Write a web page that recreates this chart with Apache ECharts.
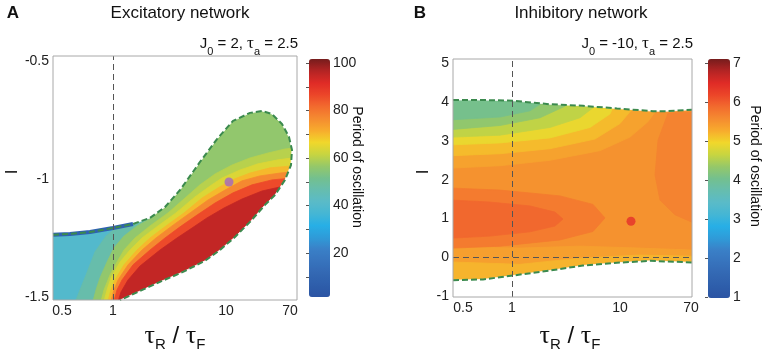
<!DOCTYPE html>
<html>
<head>
<meta charset="utf-8">
<script src="https://cdn.jsdelivr.net/npm/echarts@6/dist/echarts.min.js"></script>
<style>
  html, body { margin: 0; padding: 0; background: #fff; }
  #chart { width: 773px; height: 353px; }
</style>
</head>
<body>
<div id="chart"></div>
<script>
  // x is the column position on the original (non-uniform) tauR/tauF grid,
  // the tick labels give the ratio itself
  const xTickLabels = ['0.5', '1', '10', '70']
  const xTickPosA = [9, 60, 173, 237]
  const xTickPosB = [10, 59, 167, 238]
  const yTicksA = [-1.5, -1, -0.5]
  const yTicksB = [-1, 0, 1, 2, 3, 4, 5]
  const cbTicksA = [20, 40, 60, 80, 100]
  const cbMinorA = [10, 20, 30, 40, 50, 60, 70, 80, 90, 100]
  const cbTicksB = [1, 2, 3, 4, 5, 6, 7]

  const periodColors = ['#2b54a3', '#2e5eab', '#3368b3', '#3773bd', '#3a80c7', '#2f9bd8', '#27afe6',
    '#45b6d4', '#5abbc8', '#66bdae', '#74c08e', '#96c868', '#c8d540', '#f1d72b', '#f7ab2d',
    '#f58b30', '#f26b2e', '#ec4529', '#df2b26', '#b32424', '#761c1c']

  // ---- panel A (excitatory) ----
  const nsUpperA = [[0, -1.237], [17, -1.233], [37, -1.225], [60, -1.208], [80, -1.191], [97, -1.165],
    [112, -1.119], [127, -1.047], [147, -0.928], [164, -0.831], [180, -0.754], [197, -0.72],
    [209, -0.712], [219, -0.725], [229, -0.767], [236, -0.822], [239, -0.877]]
  const nsLowerA = [[239, -0.877], [238, -0.941], [232, -1.004], [222, -1.068], [212, -1.11], [197, -1.182],
    [182, -1.246], [167, -1.301], [152, -1.347], [130, -1.394], [107, -1.436], [87, -1.475], [72, -1.504], [67, -1.513]]
  // iso-period lines, the period grows to the lower right of each one
  const isoA45 = [[21, -1.534], [27, -1.47], [33, -1.407], [42, -1.309], [53, -1.242], [65, -1.199], [73, -1.131]]
  const isoA52 = [[39, -1.534], [43, -1.47], [47, -1.419], [54, -1.352], [61, -1.292], [71, -1.242], [84, -1.199],
    [97, -1.169], [107, -1.11]]
  const isoA57 = [[47, -1.534], [51, -1.47], [57, -1.407], [64, -1.352], [71, -1.301], [82, -1.25], [97, -1.199],
    [115, -1.144], [132, -1.081], [147, -1.025], [162, -0.979], [179, -0.941], [197, -0.911], [215, -0.89],
    [232, -0.873], [250, -0.864]]
  const isoA62 = [[50, -1.534], [54, -1.47], [58, -1.419], [67, -1.352], [77, -1.301], [89, -1.25], [105, -1.199],
    [123, -1.144], [142, -1.076], [157, -1.03], [169, -0.996], [187, -0.962], [205, -0.936], [225, -0.919], [250, -0.905]]
  const isoA68 = [[54, -1.534], [58, -1.47], [62, -1.428], [71, -1.364], [84, -1.301], [97, -1.25], [113, -1.199],
    [131, -1.144], [149, -1.081], [165, -1.038], [179, -1.004], [197, -0.975], [217, -0.953], [250, -0.941]]
  const isoA75 = [[57, -1.534], [61, -1.47], [65, -1.428], [75, -1.364], [89, -1.301], [103, -1.25], [119, -1.199],
    [137, -1.144], [155, -1.089], [172, -1.047], [189, -1.008], [207, -0.987], [227, -0.975], [250, -0.966]]
  const isoA84 = [[60, -1.534], [64, -1.47], [69, -1.428], [80, -1.364], [97, -1.301], [112, -1.25], [127, -1.203],
    [144, -1.153], [162, -1.102], [180, -1.059], [199, -1.025], [219, -1.004], [250, -0.992]]
  const isoA94 = [[64, -1.534], [68, -1.479], [75, -1.428], [87, -1.369], [107, -1.301], [124, -1.25], [139, -1.208],
    [154, -1.165], [171, -1.123], [189, -1.085], [209, -1.051], [227, -1.034], [250, -1.025]]
  const levelsA = [40, 47, 56, 60, 64, 70, 77, 86, 95]
  const dotA = [[176, -1.013]]

  // ---- panel B (inhibitory) ----
  const nsUpperB = [[0, 4.06], [30, 4.06], [60, 4.04], [97, 3.95], [130, 3.91], [164, 3.84], [200, 3.77],
    [214, 3.77], [239, 3.81]]
  const nsLowerB = [[0, -0.6], [30, -0.58], [60, -0.48], [97, -0.35], [130, -0.22], [164, -0.15], [197, -0.1],
    [239, -0.14]]
  const isoB54 = [[0, 2.3], [47, 2.36], [97, 2.5], [147, 2.75], [177, 3.1], [195, 3.5], [205, 3.85], [210, 4.1]]
  const isoB52 = [[0, 2.62], [47, 2.67], [97, 2.8], [142, 3.05], [167, 3.45], [180, 3.85], [184, 4.1]]
  const isoB50 = [[0, 2.9], [47, 2.95], [97, 3.08], [137, 3.35], [157, 3.7], [164, 4.1]]
  const isoB48 = [[0, 3.1], [47, 3.15], [97, 3.35], [127, 3.6], [142, 3.9], [146, 4.15]]
  const isoB45 = [[0, 3.3], [47, 3.4], [87, 3.6], [112, 3.9], [118, 4.2]]
  const isoB43 = [[0, 3.55], [47, 3.62], [77, 3.78], [90, 4.0], [95, 4.2]]
  const isoB54low = [[0, 0.26], [67, 0.23], [127, 0.28], [187, 0.23], [239, 0.18]]
  const isoB52low = [[0, -0.13], [67, -0.19], [127, -0.03], [187, 0.05], [239, 0.02]]
  const tongueOuterB = [[0, 1.78], [47, 1.73], [107, 1.58], [140, 1.36], [152, 1.01], [140, 0.66], [107, 0.44],
    [47, 0.28], [0, 0.23]]
  const tongueInnerB = [[0, 1.47], [37, 1.42], [77, 1.32], [102, 1.16], [110, 0.98], [102, 0.8], [77, 0.65],
    [37, 0.54], [0, 0.49]]
  const rightBlobB = [[239, 3.75], [215, 3.72], [205, 3.02], [202, 2.12], [207, 1.47], [222, 1.09], [239, 0.9]]
  const levelsB = [5.5, 5.35, 5.15, 4.9, 4.6, 4.3, 4.05, 5.38, 5.2, 5.72, 5.9, 5.64]
  const dotB = [[178, 0.925]]

  const font = 'Liberation Sans'

  const bandsA = [
    { mode: 'rect' },
    { pts: isoA45, mode: 'ur' }, { pts: isoA52, mode: 'ur' }, { pts: isoA57, mode: 'ur' },
    { pts: isoA62, mode: 'ur' }, { pts: isoA68, mode: 'ur' }, { pts: isoA75, mode: 'ur' },
    { pts: isoA84, mode: 'ur' }, { pts: isoA94, mode: 'ur' }
  ]
  const masksA = [{ pts: nsUpperA, mode: 'top', color: '#fff' }, { pts: nsLowerA, mode: 'dr', color: '#fff' }]
  const bandsB = [
    { mode: 'rect' },
    { pts: isoB54, mode: 'ul' }, { pts: isoB52, mode: 'ul' }, { pts: isoB50, mode: 'ul' },
    { pts: isoB48, mode: 'ul' }, { pts: isoB45, mode: 'ul' }, { pts: isoB43, mode: 'ul' },
    { pts: isoB54low, mode: 'down' }, { pts: isoB52low, mode: 'down' },
    { pts: tongueOuterB, mode: 'left' }, { pts: tongueInnerB, mode: 'left' }, { pts: rightBlobB, mode: 'right' }
  ]
  const masksB = [{ pts: nsUpperB, mode: 'top', color: '#fff' }, { pts: nsLowerB, mode: 'down', color: '#fff' }]

  function bandRenderer(bands) {
    return function(params, api) {
      const b = bands[params.dataIndex]
      const cs = params.coordSys
      const L = cs.x - 40
      const R = cs.x + cs.width + 40
      const T = cs.y - 40
      const B = cs.y + cs.height + 40
      const color = b.color || api.visual('color')
      if (b.mode === 'rect') {
        return { type: 'rect', shape: { x: cs.x, y: cs.y, width: cs.width, height: cs.height }, style: { fill: color } }
      }
      const p = b.pts.map(d => api.coord(d))
      const s = p[0]
      const e = p[p.length - 1]
      let tail = []
      switch (b.mode) {
        case 'ur': tail = [[e[0], T], [R, T], [R, B], [s[0], B]]; break
        case 'ul': tail = [[e[0], T], [L, T], [L, s[1]]]; break
        case 'top': tail = [[R, e[1]], [R, T], [L, T], [L, s[1]]]; break
        case 'down': tail = [[R, e[1]], [R, B], [L, B], [L, s[1]]]; break
        case 'left': tail = [[L, e[1]], [L, s[1]]]; break
        case 'right': tail = [[R, e[1]], [R, s[1]]]; break
        case 'dr': tail = [[e[0], B], [R, B], [R, s[1]]]; break
      }
      return {
        type: 'polygon',
        shape: { points: p.concat(tail) },
        style: { fill: color, stroke: color, lineWidth: 0.8 }
      }
    }
  }

  function xAxisFor(gridIndex, max, pos) {
    return {
      gridIndex, type: 'value', min: 0, max,
      axisLine: { show: false }, axisTick: { show: false }, splitLine: { show: false },
      axisLabel: {
        customValues: pos, margin: 4, color: '#222', fontFamily: font, fontSize: 14,
        formatter: v => xTickLabels[pos.indexOf(v)]
      }
    }
  }
  function yAxisFor(gridIndex, min, max, ticks) {
    return {
      gridIndex, type: 'value', min, max,
      axisLine: { show: false }, axisTick: { show: false }, splitLine: { show: false },
      axisLabel: { customValues: ticks, margin: 4, color: '#222', fontFamily: font, fontSize: 14 }
    }
  }
  function cbAxis(gridIndex, min, max, ticks, minor) {
    return {
      gridIndex, type: 'value', min, max, position: 'right', z: 10,
      axisLine: { show: false }, splitLine: { show: false },
      axisTick: { show: true, inside: true, length: 3, customValues: minor, lineStyle: { color: '#555' } },
      axisLabel: { customValues: ticks, margin: 3, color: '#222', fontFamily: font, fontSize: 14 }
    }
  }

  const nsLine = { color: '#3b8a4e', width: 2, type: [6, 3] }
  const refLine = { color: '#555', width: 1, type: [6, 4] }

  function text(x, y, str, size, extra) {
    return Object.assign({
      type: 'text', x, y, silent: true,
      style: { text: str, fill: '#111', fontFamily: font, fontSize: size, align: 'center', verticalAlign: 'middle' }
    }, extra || {})
  }
  const subRich = {
    s: { fontSize: 11, fontFamily: font, verticalAlign: 'bottom', lineHeight: 12 },
    t: { fontSize: 17, fontFamily: 'Liberation Serif', lineHeight: 26 }
  }
  const ratioRich = {
    t: { fontSize: 26, fontFamily: 'Liberation Serif', lineHeight: 32 },
    s: { fontSize: 15, fontFamily: font, verticalAlign: 'bottom', lineHeight: 15 },
    m: { fontSize: 24, fontFamily: font, lineHeight: 32 }
  }

  const chart = echarts.init(document.getElementById('chart'))
  chart.setOption({
    animation: false,
    backgroundColor: '#fff',
    grid: [
      { left: 53, top: 56, width: 244, height: 244, show: true, borderColor: '#a8a8a8', borderWidth: 1, z: 10 },
      { left: 453, top: 59, width: 239, height: 238, show: true, borderColor: '#a8a8a8', borderWidth: 1, z: 10 },
      { left: 309, top: 59, width: 21, height: 238 },
      { left: 708, top: 59, width: 22, height: 239 }
    ],
    xAxis: [
      xAxisFor(0, 244, xTickPosA),
      xAxisFor(1, 239, xTickPosB),
      { gridIndex: 2, type: 'value', min: 0, max: 1, show: false },
      { gridIndex: 3, type: 'value', min: 0, max: 1, show: false }
    ],
    yAxis: [
      yAxisFor(0, -1.513, -0.479, yTicksA),
      yAxisFor(1, -1.035, 5.12, yTicksB),
      cbAxis(2, 1.5, 101.7, cbTicksA, cbMinorA),
      cbAxis(3, 0.97, 7.1, cbTicksB, cbTicksB)
    ],
    visualMap: [
      {
        type: 'continuous', min: 1.5, max: 101.7, seriesIndex: 0, dimension: 1, calculable: false,
        left: 309, top: 59, itemWidth: 21, itemHeight: 238, padding: 0, text: null, hoverLink: false,
        inRange: { color: periodColors }
      },
      {
        type: 'continuous', min: 0.97, max: 7.1, seriesIndex: 6, dimension: 1, calculable: false,
        left: 708, top: 59, itemWidth: 22, itemHeight: 239, padding: 0, text: null, hoverLink: false,
        inRange: { color: periodColors }
      }
    ],
    series: [
      {
        type: 'custom', xAxisIndex: 0, yAxisIndex: 0, clip: true, silent: true,
        renderItem: bandRenderer(bandsA), data: bandsA.map((b, i) => [i, levelsA[i]])
      },
      {
        type: 'custom', xAxisIndex: 0, yAxisIndex: 0, clip: true, silent: true,
        renderItem: bandRenderer(masksA), data: masksA.map((b, i) => [i, 0])
      },
      {
        type: 'line', xAxisIndex: 0, yAxisIndex: 0, data: nsUpperA.slice(0, 5), symbol: 'none', silent: true,
        lineStyle: { color: '#2f62b0', width: 4 }
      },
      {
        type: 'line', xAxisIndex: 0, yAxisIndex: 0, data: nsUpperA.concat(nsLowerA), symbol: 'none', silent: true,
        lineStyle: nsLine,
        markLine: { symbol: 'none', silent: true, label: { show: false }, lineStyle: refLine, data: [{ xAxis: xTickPosA[1] }] }
      },
      {
        type: 'scatter', xAxisIndex: 0, yAxisIndex: 0, data: dotA, symbolSize: 9, silent: true,
        itemStyle: { color: '#a166c2' }
      },
      {
        type: 'line', xAxisIndex: 2, yAxisIndex: 2, data: [], symbol: 'none'
      },
      {
        type: 'custom', xAxisIndex: 1, yAxisIndex: 1, clip: true, silent: true,
        renderItem: bandRenderer(bandsB), data: bandsB.map((b, i) => [i, levelsB[i]])
      },
      {
        type: 'custom', xAxisIndex: 1, yAxisIndex: 1, clip: true, silent: true,
        renderItem: bandRenderer(masksB), data: masksB.map((b, i) => [i, 0])
      },
      {
        type: 'line', xAxisIndex: 1, yAxisIndex: 1, data: nsUpperB, symbol: 'none', silent: true, lineStyle: nsLine,
        markLine: {
          symbol: 'none', silent: true, label: { show: false }, lineStyle: refLine,
          data: [{ xAxis: xTickPosB[1] }, { yAxis: 0 }]
        }
      },
      {
        type: 'line', xAxisIndex: 1, yAxisIndex: 1, data: nsLowerB, symbol: 'none', silent: true, lineStyle: nsLine
      },
      {
        type: 'scatter', xAxisIndex: 1, yAxisIndex: 1, data: dotB, symbolSize: 9, silent: true,
        itemStyle: { color: '#e5302b' }
      }
    ],
    graphic: [
      text(13, 13, 'A', 17, { style: { text: 'A', fill: '#111', fontFamily: font, fontSize: 17, fontWeight: 'bold', align: 'center', verticalAlign: 'middle' } }),
      text(180, 13, 'Excitatory network', 17),
      text(298, 44, 'J{s|0} = 2, {t|τ}{s|a} = 2.5', 15, { style: { text: 'J{s|0} = 2, {t|τ}{s|a} = 2.5', fill: '#111', fontFamily: font, fontSize: 15, lineHeight: 26, align: 'right', verticalAlign: 'middle', rich: subRich } }),
      text(126, 77, 'Steady state', 14, { style: { text: 'Steady state', fill: '#111', fontFamily: font, fontSize: 14, align: 'left', verticalAlign: 'middle' } }),
      text(248, 143, 'OSE', 15),
      text(171, 178, 'NS', 14),
      text(12, 172, 'I', 17, { rotation: Math.PI / 2 }),
      text(175, 336, '{t|τ}{s|R}{m| / }{t|τ}{s|F}', 24, { style: { text: '{t|τ}{s|R}{m| / }{t|τ}{s|F}', fill: '#111', fontFamily: font, fontSize: 24, lineHeight: 32, align: 'center', verticalAlign: 'middle', rich: ratioRich } }),
      text(357, 167, 'Period of oscillation', 14, { rotation: -Math.PI / 2 }),

      text(420, 13, 'B', 17, { style: { text: 'B', fill: '#111', fontFamily: font, fontSize: 17, fontWeight: 'bold', align: 'center', verticalAlign: 'middle' } }),
      text(581, 13, 'Inhibitory network', 17),
      text(693, 44, 'J{s|0} = -10, {t|τ}{s|a} = 2.5', 15, { style: { text: 'J{s|0} = -10, {t|τ}{s|a} = 2.5', fill: '#111', fontFamily: font, fontSize: 15, lineHeight: 26, align: 'right', verticalAlign: 'middle', rich: subRich } }),
      text(684, 77, 'Steady state', 14, { style: { text: 'Steady state', fill: '#111', fontFamily: font, fontSize: 14, align: 'right', verticalAlign: 'middle' } }),
      text(542, 94, 'NS', 14),
      text(574, 182, 'OSI', 15),
      text(606, 276, 'NS', 14),
      text(423, 172, 'I', 17, { rotation: Math.PI / 2 }),
      text(570, 336, '{t|τ}{s|R}{m| / }{t|τ}{s|F}', 24, { style: { text: '{t|τ}{s|R}{m| / }{t|τ}{s|F}', fill: '#111', fontFamily: font, fontSize: 24, lineHeight: 32, align: 'center', verticalAlign: 'middle', rich: ratioRich } }),
      text(755, 166, 'Period of oscillation', 14, { rotation: -Math.PI / 2 })
    ]
  })
</script>
</body>
</html>
